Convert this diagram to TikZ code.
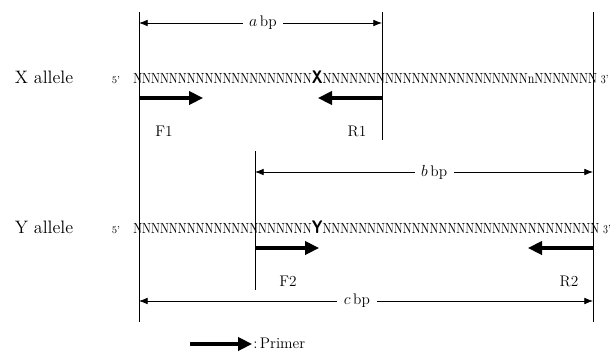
\documentclass[tikz,border=0pt]{standalone}
\usetikzlibrary{arrows.meta}
\begin{document}
\begin{tikzpicture}[x=0.75pt,y=-0.75pt,
  dimline/.style={line width=0.6pt,{Latex[length=6.5pt,width=5pt]}-{Latex[length=6.5pt,width=5pt]}},
  guide/.style={line width=0.7pt},
  primer/.style={line width=2.3pt,-{Triangle[length=10.5pt,width=10pt]}},
  lbl/.style={font=\fontsize{11.5}{13}\selectfont, inner sep=1.5pt},
  dimlbl/.style={lbl, fill=white, inner xsep=5pt},
  allele/.style={font=\fontsize{13.5}{16}\selectfont, anchor=base, inner sep=0pt},
  prime/.style={font=\fontsize{7.5}{9}\selectfont, anchor=base, inner sep=0pt},
  seq/.style={font=\fontsize{10.5}{12}\selectfont, anchor=base west, inner sep=0pt},
]
\useasboundingbox (0,0) rectangle (615,351);

% guide lines marking the primer ends
\coordinate (g1t) at (139,12);  \coordinate (g1b) at (139,322);
\coordinate (g2t) at (382,12);  \coordinate (g2b) at (382,140);
\coordinate (g3t) at (593,12);  \coordinate (g3b) at (593,322);
\coordinate (g4t) at (255,151); \coordinate (g4b) at (255,290);
\draw[guide] (g1t) -- (g1b);
\draw[guide] (g2t) -- (g2b);
\draw[guide] (g3t) -- (g3b);
\draw[guide] (g4t) -- (g4b);

% product lengths
\coordinate (a1) at (139,23);  \coordinate (a2) at (382,23);
\coordinate (b1) at (255,172); \coordinate (b2) at (593,172);
\coordinate (c1) at (139,301); \coordinate (c2) at (593,301);
\draw[dimline] (a1) -- node[dimlbl, pos=0.51] (alab) {$a$\,bp} (a2);
\draw[dimline] (b1) -- node[dimlbl, pos=0.53] (blab) {$b$\,bp} (b2);
\draw[dimline, line width=0.5pt] (c1) -- node[dimlbl, pos=0.48] (clab) {$c$\,bp} (c2);

% X allele
\node[allele] (xal) at (44,83) {X allele};
\node[prime] (x5) at (116,83) {5'};
\node[seq] (xseq) at (133,83) {\scalebox{0.85}[1.05]{NNNNNNNNNNNNNNNNNNNN{\fontsize{13}{14}\selectfont\sffamily\bfseries X}NNNNNNNNNNNNNNNNNNNNNNNnNNNNNNN{\fontsize{8.5}{9}\selectfont\hspace{3.5pt}3'}}};

% Y allele
\node[allele] (yal) at (44,233) {Y allele};
\node[prime] (y5) at (116,233) {5'};
\node[seq] (yseq) at (133,233) {\scalebox{0.85}[1.05]{NNNNNNNNNNNNNNNNNNNN{\fontsize{13}{14}\selectfont\sffamily\bfseries Y}NNNNNNNNNNNNNNNNNNNNNNNNNNNNNNN{\fontsize{8.5}{9}\selectfont\hspace{3.5pt}3'}}};

% primers
\coordinate (f1s) at (139,98);  \coordinate (f1e) at (203,98);
\coordinate (r1s) at (382,98);  \coordinate (r1e) at (318,98);
\coordinate (f2s) at (255,248); \coordinate (f2e) at (319,248);
\coordinate (r2s) at (593,248); \coordinate (r2e) at (528,248);
\draw[primer] (f1s) -- (f1e);
\draw[primer] (r1s) -- (r1e);
\draw[primer] (f2s) -- (f2e);
\draw[primer] (r2s) -- (r2e);
\node[lbl] (f1) at (164,131) {F1};
\node[lbl] (r1) at (357,131) {R1};
\node[lbl] (f2) at (288,281) {F2};
\node[lbl] (r2) at (569,281) {R2};

% legend
\coordinate (ls) at (190,344); \coordinate (le) at (252,344);
\draw[primer] (ls) -- (le);
\node[lbl, anchor=west, inner sep=0pt] (legend) at (253,343) {:\,Primer};
\end{tikzpicture}
\end{document}
